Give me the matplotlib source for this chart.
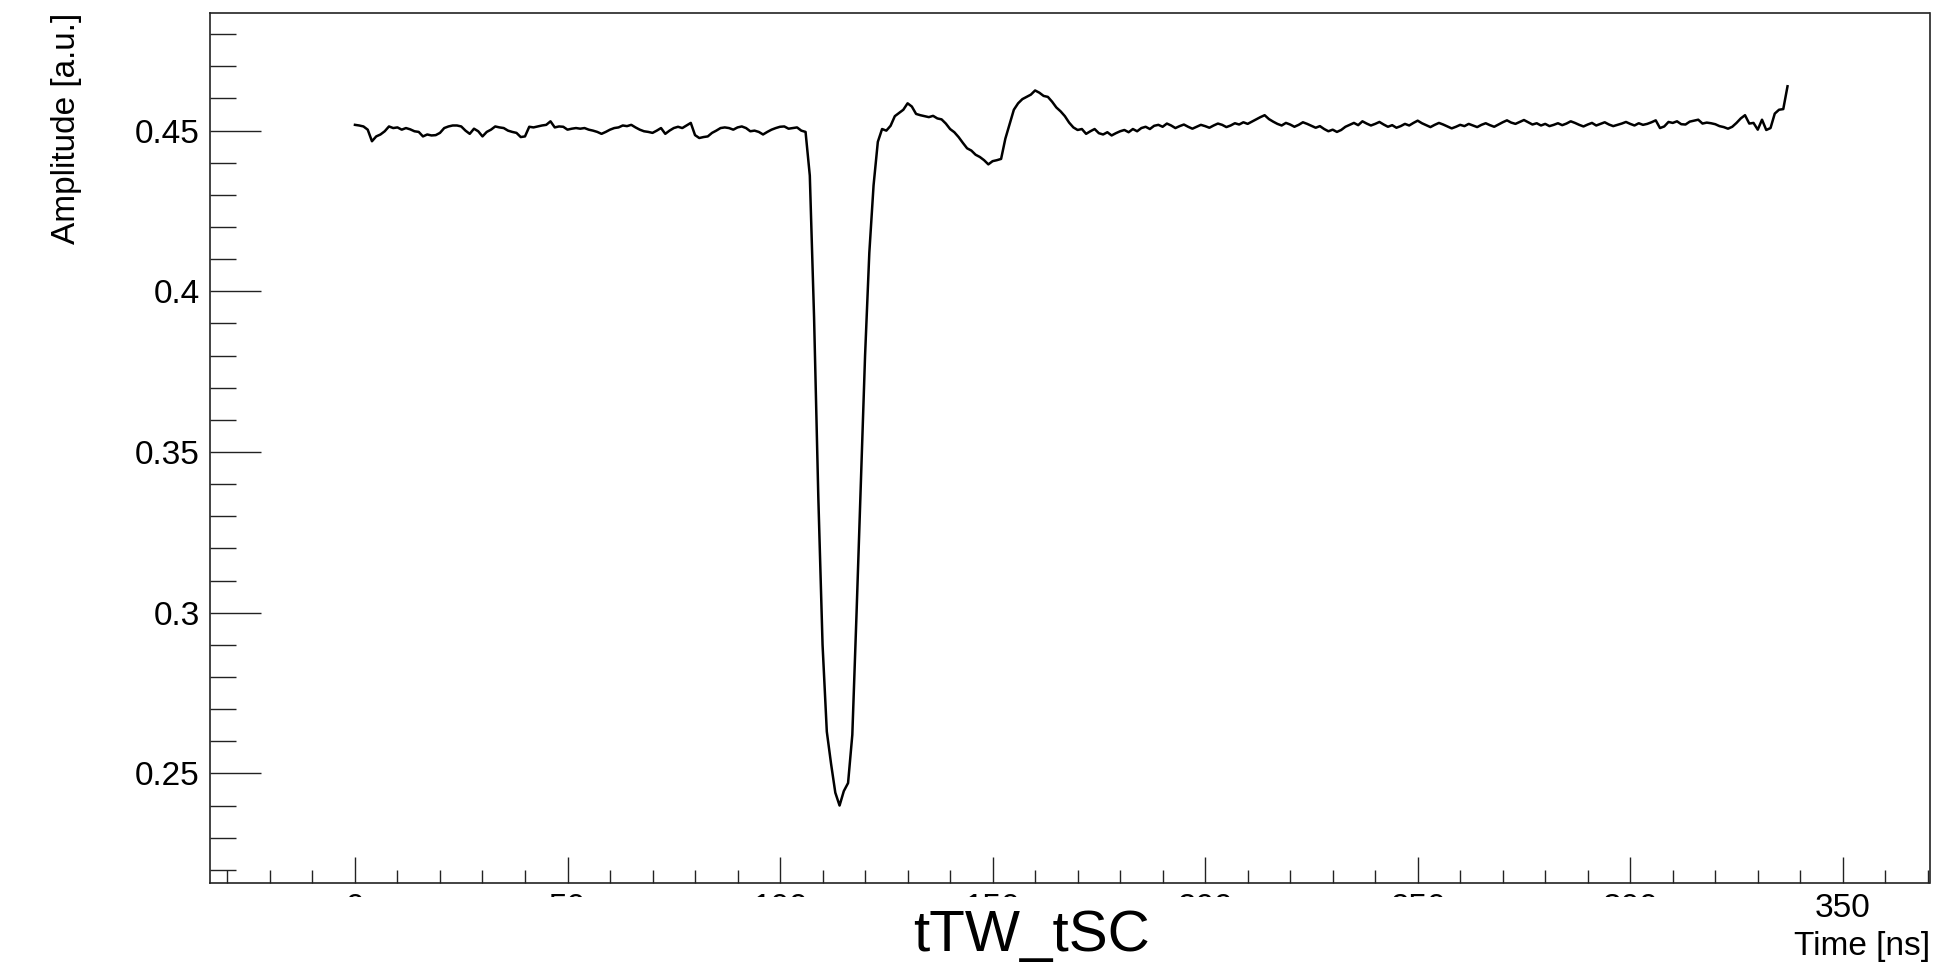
import matplotlib
matplotlib.use("Agg")
import matplotlib.pyplot as plt
from matplotlib.ticker import MultipleLocator, FuncFormatter
from matplotlib.patches import Rectangle
import numpy as np

plt.rcParams['font.family'] = ['Liberation Sans', 'DejaVu Sans']

# waveform, one sample per ns starting at t = 0
amp_0_106 = [
    0.4518, 0.4516, 0.4513, 0.4503, 0.4467, 0.4482, 0.4488, 0.4498, 0.4513, 0.4508,
    0.4510, 0.4503, 0.4508, 0.4504, 0.4498, 0.4496, 0.4482, 0.4488, 0.4485, 0.4486,
    0.4493, 0.4508, 0.4513, 0.4516, 0.4516, 0.4513, 0.4500, 0.4490, 0.4506, 0.4498,
    0.4482, 0.4496, 0.4503, 0.4513, 0.4510, 0.4508, 0.4500, 0.4496, 0.4493, 0.4480,
    0.4482, 0.4512, 0.4510, 0.4513, 0.4516, 0.4518, 0.4529, 0.4510, 0.4513, 0.4512,
    0.4503, 0.4506, 0.4508, 0.4506, 0.4508, 0.4503, 0.4500, 0.4496, 0.4490, 0.4496,
    0.4503, 0.4508, 0.4510, 0.4516, 0.4514, 0.4518, 0.4510, 0.4503, 0.4498, 0.4496,
    0.4493, 0.4500, 0.4508, 0.4490, 0.4500, 0.4508, 0.4512, 0.4508, 0.4516, 0.4524,
    0.4486, 0.4477, 0.4480, 0.4482, 0.4493, 0.4500, 0.4508, 0.4510, 0.4508, 0.4503,
    0.4510, 0.4513, 0.4508, 0.4498, 0.4500, 0.4496, 0.4488, 0.4496, 0.4503, 0.4508,
    0.4512, 0.4513, 0.4506, 0.4508, 0.4510, 0.4500, 0.4496,
]
# main pulse and the ringing after it
amp_107_174 = [
    0.4360, 0.3920, 0.3360, 0.2900, 0.2630, 0.2530, 0.2440, 0.2400, 0.2445, 0.2470,
    0.2620, 0.3000, 0.3400, 0.3800, 0.4120, 0.4330, 0.4465, 0.4505, 0.4500, 0.4515,
    0.4545, 0.4555, 0.4565, 0.4585, 0.4575, 0.4552, 0.4548, 0.4545, 0.4542, 0.4546,
    0.4538, 0.4535, 0.4522, 0.4505, 0.4495, 0.4480, 0.4462, 0.4445, 0.4438, 0.4425,
    0.4418, 0.4408, 0.4395, 0.4405, 0.4408, 0.4412, 0.4475, 0.4520, 0.4565, 0.4585,
    0.4598, 0.4605, 0.4612, 0.4625, 0.4618, 0.4608, 0.4605, 0.4590, 0.4572, 0.4560,
    0.4545, 0.4525, 0.4510, 0.4502, 0.4505, 0.4490, 0.4498, 0.4505,
]
amp_175_337 = [
    0.4492, 0.4488, 0.4495, 0.4485, 0.4492, 0.4498, 0.4502, 0.4495, 0.4505, 0.4498,
    0.4508, 0.4512, 0.4505, 0.4515, 0.4518, 0.4512, 0.4522, 0.4516, 0.4508, 0.4514,
    0.4519, 0.4512, 0.4506, 0.4512, 0.4518, 0.4514, 0.4509, 0.4516, 0.4522, 0.4518,
    0.4511, 0.4516, 0.4523, 0.4519, 0.4526, 0.4521, 0.4528, 0.4535, 0.4542, 0.4548,
    0.4536, 0.4528, 0.4521, 0.4516, 0.4524, 0.4519, 0.4512, 0.4518, 0.4526, 0.4521,
    0.4515, 0.4509, 0.4514, 0.4505, 0.4498, 0.4503, 0.4496, 0.4502, 0.4512, 0.4518,
    0.4524, 0.4517, 0.4529, 0.4522, 0.4516, 0.4521, 0.4527, 0.4519, 0.4512, 0.4517,
    0.4509, 0.4514, 0.4521, 0.4516, 0.4524, 0.4531, 0.4523, 0.4517, 0.4511, 0.4518,
    0.4524, 0.4519, 0.4513, 0.4507, 0.4512, 0.4518, 0.4514, 0.4521, 0.4516, 0.4511,
    0.4518, 0.4523, 0.4517, 0.4512, 0.4519, 0.4526, 0.4532, 0.4525, 0.4521, 0.4527,
    0.4533, 0.4526, 0.4519, 0.4523, 0.4516, 0.4521, 0.4514, 0.4518, 0.4523, 0.4517,
    0.4522, 0.4529, 0.4524, 0.4518, 0.4513, 0.4519, 0.4524, 0.4516, 0.4521, 0.4526,
    0.4519, 0.4514, 0.4518, 0.4522, 0.4527, 0.4521, 0.4516, 0.4523, 0.4518, 0.4521,
    0.4526, 0.4532, 0.4508, 0.4513, 0.4527, 0.4524, 0.4529, 0.4520, 0.4519, 0.4528,
    0.4531, 0.4534, 0.4522, 0.4525, 0.4523, 0.4520, 0.4514, 0.4511, 0.4506, 0.4512,
    0.4524, 0.4538, 0.4548, 0.4522, 0.4524, 0.4503, 0.4534, 0.4502, 0.4508, 0.4553,
    0.4565, 0.4567, 0.4638,
]
amplitude = amp_0_106 + amp_107_174 + amp_175_337
time_ns = np.arange(len(amplitude))

x_range = [-34.1, 370.4]
y_range = [0.2159, 0.4866]
title = "tTW_tSC"
x_title = "Time [ns]"
y_title = "Amplitude [a.u.]"

W, H = 1948, 965
fig = plt.figure(figsize=(W/100, H/100), dpi=100)
ax = fig.add_axes([210/W, 1-883/H, (1929.5-210)/W, (883-13)/H])

ax.plot(time_ns, amplitude, color='black', lw=1.8)
ax.set_xlim(x_range)
ax.set_ylim(y_range)

ax.xaxis.set_major_locator(MultipleLocator(50))
ax.xaxis.set_minor_locator(MultipleLocator(10))
ax.yaxis.set_major_locator(MultipleLocator(0.05))
ax.yaxis.set_minor_locator(MultipleLocator(0.01))
ax.yaxis.set_major_formatter(FuncFormatter(lambda v, p: "%g" % round(v, 3)))
ax.xaxis.set_major_formatter(FuncFormatter(lambda v, p: "%g" % v))

ax.tick_params(which='both', direction='in', top=False, right=False, width=1.0, color='#222222')
ax.tick_params(axis='y', which='major', length=37, pad=7.2, labelsize=24)
ax.tick_params(axis='y', which='minor', length=18.6)
ax.tick_params(axis='x', which='major', length=18.7, pad=7.2, labelsize=24)
ax.tick_params(axis='x', which='minor', length=9.4)
for s in ax.spines.values():
    s.set_linewidth(1.2)
    s.set_color('#222222')

# white title box sits over the bottom part of the tick labels
fig.add_artist(Rectangle((300/W, 0), (1760-300)/W, (965-897)/H, transform=fig.transFigure,
                         facecolor='white', edgecolor='none', zorder=2))
fig.text(1031/W, 1-951/H, title, fontsize=42, ha='center', va='baseline', zorder=3)
fig.text(1930/W, 1-955/H, x_title, fontsize=24, ha='right', va='baseline', zorder=3)
fig.text(66/W, 1-13/H, y_title, fontsize=24, rotation=90, ha='center', va='top')

fig.savefig("out.png", dpi=100)
